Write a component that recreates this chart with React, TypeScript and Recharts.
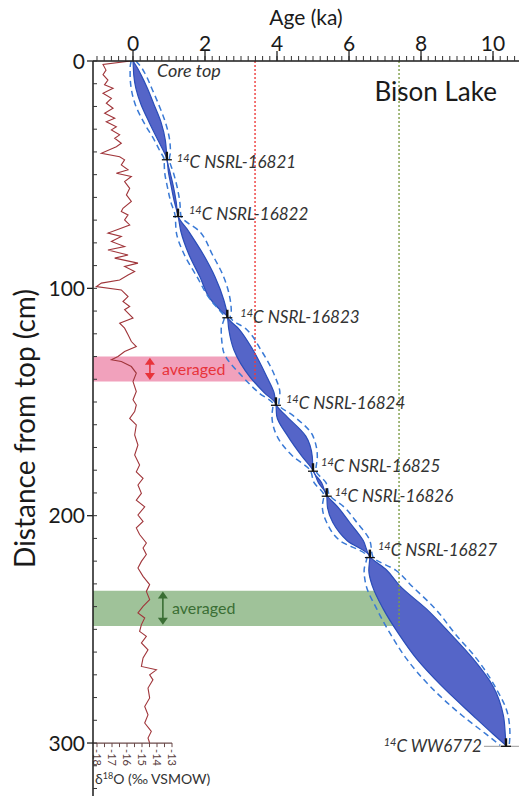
import React from "react";
import {
  ComposedChart,
  XAxis,
  YAxis,
  Area,
  Line,
  Scatter,
  ReferenceArea,
  ReferenceLine,
} from "recharts";

const FONT = "Lato, 'Open Sans', sans-serif";

// δ18O record, depth (cm) and value (‰ VSMOW)
const isoDepth = [
  0, 1.5, 4, 6, 8.4, 10.5, 12, 14.2, 16.4, 18.6, 20.8, 23, 25.2, 26.7, 28.9, 30.3,
  32.5, 34, 36.2, 37.7, 40.6, 42.1, 43.5, 45.7, 47.9, 49.4, 50.8, 53, 56, 58.9, 61.8,
  64.8, 66.2, 67.7, 69.9, 72.1, 74.3, 75.7, 77.2, 79.4, 81.6, 83.1, 85.3, 86.7, 88.9,
  90.4, 92.6, 94.1, 96.3, 97.7, 99.2, 100.7, 103.6, 105.8, 108, 109.4, 113.1, 115.3,
  117.5, 120.4, 123.4, 125.6, 127.8, 130, 131.4, 132.2, 134.4, 137.3, 141, 145.4, 149,
  151.3, 154.2, 157.2, 160.1, 164.5, 168.9, 173.3, 177.7, 180.7, 183.6, 186.5, 190.2,
  193.2, 196.1, 199.7, 202.5, 205.4, 208.3, 212, 214.2, 217.1, 220.1, 223, 226.7,
  230.3, 233.3, 236.9, 239.9, 242.8, 245, 247.9, 250.9, 253.1, 256, 259, 262.6, 266.3,
  267.8, 270, 272.2, 275.8, 280.2, 283.9, 287.6, 291.2, 294.9, 297.8, 300,
];
const isoValue = [
  -15.75, -17.6, -17.4, -17.6, -17.27, -17.5, -16.93, -17.6, -17.04, -17.38, -16.93,
  -17.49, -16.82, -17.38, -16.71, -17.04, -16.49, -16.82, -16.38, -16.71, -17.71,
  -16.49, -16.16, -16.38, -15.93, -16.71, -15.71, -16.16, -15.82, -16.04, -15.71,
  -16.27, -16.38, -15.93, -16.16, -15.82, -16.71, -17.27, -16.38, -17.04, -16.16,
  -17.27, -15.93, -16.82, -15.27, -16.16, -15.49, -15.93, -16.49, -17.71, -18.04,
  -16.38, -15.93, -16.27, -15.82, -16.16, -15.6, -16.49, -16.16, -15.93, -15.71,
  -15.38, -16.16, -16.6, -17.04, -16.38, -15.71, -15.38, -15.6, -15.38, -15.6, -15.38,
  -15.49, -15.82, -15.38, -15.49, -15.27, -15.49, -15.16, -15.38, -14.93, -15.27,
  -15.04, -15.38, -14.82, -15.27, -14.93, -15.38, -15.16, -14.71, -14.93, -14.71,
  -15.04, -15.27, -14.93, -14.49, -14.71, -14.49, -14.93, -15.27, -14.82, -15.04,
  -15.16, -14.71, -15.04, -14.6, -14.93, -15.04, -14.04, -14.49, -14.27, -14.6, -14.49,
  -14.82, -14.6, -14.82, -14.38, -14.6, -14.49,
];

// dated horizons
const dateDepth = [0, 43, 68, 112.5, 151, 180, 191, 218, 301];
const dateAge = [0, 0.94, 1.25, 2.62, 3.97, 5.0, 5.38, 6.58, 10.36];
const dateLabel = [
  "Core top",
  "14C NSRL-16821",
  "14C NSRL-16822",
  "14C NSRL-16823",
  "14C NSRL-16824",
  "14C NSRL-16825",
  "14C NSRL-16826",
  "14C NSRL-16827",
  "14C WW6772",
];

// age model (ka): filled range and dashed envelope
const modelDepth = [
  0, 3, 6, 12, 19, 27, 35, 40, 43, 49, 55, 62, 68, 75, 85, 95, 105, 110, 112.5, 118, 127,
  139, 146, 151, 156, 165, 174, 180, 185.5, 191, 196, 203, 211, 218, 224, 231, 241, 252,
  263, 275, 288, 296, 301,
];
const bandLo = [
  0, 0.01, 0.02, 0.08, 0.22, 0.45, 0.7, 0.86, 0.94, 0.985, 1.06, 1.15, 1.25, 1.33, 1.55,
  1.86, 2.16, 2.45, 2.62, 2.66, 2.8, 3.25, 3.65, 3.97, 3.99, 4.3, 4.7, 5.0, 5.15, 5.38,
  5.4, 5.55, 5.95, 6.58, 6.55, 6.65, 6.95, 7.38, 7.88, 8.58, 9.45, 10.0, 10.36,
];
const bandHi = [
  0, 0.12, 0.22, 0.4, 0.58, 0.78, 0.9, 0.93, 0.94, 1.03, 1.12, 1.2, 1.25, 1.55, 1.95,
  2.28, 2.52, 2.6, 2.62, 2.95, 3.33, 3.72, 3.92, 3.97, 4.25, 4.8, 4.98, 5.0, 5.24, 5.38,
  5.68, 6.02, 6.4, 6.58, 7.05, 7.42, 8.15, 8.82, 9.45, 10.0, 10.29, 10.34, 10.36,
];
const envLo = [
  -0.05, -0.08, -0.08, -0.05, 0.06, 0.3, 0.6, 0.76, 0.86, 0.88, 0.95, 1.05, 1.17, 1.2,
  1.42, 1.78, 2.15, 2.42, 2.54, 2.45, 2.5, 3.05, 3.5, 3.89, 3.86, 4.0, 4.45, 4.92, 5.03,
  5.3, 5.26, 5.38, 5.75, 6.5, 6.42, 6.48, 6.77, 7.15, 7.6, 8.25, 9.15, 9.8, 10.2,
];
const envHi = [
  0.08, 0.24, 0.35, 0.52, 0.71, 0.9, 1.02, 1.04, 1.01, 1.12, 1.22, 1.3, 1.33, 1.85, 2.2,
  2.52, 2.7, 2.73, 2.7, 3.15, 3.55, 3.95, 4.08, 4.05, 4.45, 5.0, 5.12, 5.08, 5.36, 5.46,
  5.85, 6.22, 6.58, 6.66, 7.3, 7.75, 8.4, 8.95, 9.55, 10.05, 10.42, 10.47, 10.45,
];

// axes
const ageLabels = [0, 2, 4, 6, 8, 10];
const depthLabels = [0, 100, 200, 300];
const isoLabels = [-18, -17, -16, -15, -14, -13];
const isoMinor = [-17.5, -16.5, -15.5, -14.5, -13.5];

const ageTicks: number[] = [];
for (let i = -5; i <= 53; i++) ageTicks.push(Math.round(i * 2) / 10);
const depthTicks: number[] = [];
for (let d = 0; d <= 320; d += 10) depthTicks.push(d);

const modelRows = modelDepth.map((d, i) => ({
  depth: d,
  band: [bandLo[i], bandHi[i]],
  envLo: envLo[i],
  envHi: envHi[i],
}));
const isoRows = isoDepth.map((d, i) => ({ depth: d, iso: isoValue[i] }));
const dateRows = dateDepth.map((d, i) => ({ depth: d, age: dateAge[i], label: dateLabel[i] }));

const labelShift: Record<string, [number, number]> = {
  "Core top": [24, 10],
  "14C NSRL-16821": [10, 3],
  "14C NSRL-16822": [11, -2],
  "14C NSRL-16823": [13, 0],
  "14C NSRL-16824": [10, -1],
  "14C NSRL-16825": [8, -4],
  "14C NSRL-16826": [8, 1],
  "14C NSRL-16827": [8, -7],
  "14C WW6772": [-24, 1],
};

const AgeTick = (p: any) => {
  const { x, y, payload } = p;
  const v = payload.value;
  const major = ageLabels.some((a) => Math.abs(a - v) < 1e-6);
  return (
    <g>
      <line x1={x} x2={x} y1={y + 2} y2={y + 7} stroke="#333" strokeWidth={1} />
      {major && (
        <>
          <line x1={x} x2={x} y1={y - 3} y2={y + 7} stroke="#222" strokeWidth={1.3} />
          <text x={x} y={y - 3} textAnchor="middle" fontSize={21} fill="#1a1a1a" fontFamily={FONT}>
            {v}
          </text>
        </>
      )}
    </g>
  );
};

const DepthTick = (p: any) => {
  const { x, y, payload } = p;
  const v = payload.value;
  const major = depthLabels.includes(v);
  return (
    <g>
      <line x1={x + 8} x2={x + 12} y1={y} y2={y} stroke="#333" strokeWidth={1} />
      {major && (
        <>
          <line x1={x + 2} x2={x + 8} y1={y} y2={y} stroke="#222" strokeWidth={1.3} />
          <text x={x} y={y} dy="0.36em" textAnchor="end" fontSize={21} fill="#1a1a1a" fontFamily={FONT}>
            {v}
          </text>
        </>
      )}
    </g>
  );
};

const AgeTitle = (p: any) => {
  const { viewBox } = p;
  return (
    <text
      x={viewBox.x + viewBox.width / 2}
      y={viewBox.y + 25}
      textAnchor="middle"
      fontSize={21}
      fill="#1a1a1a"
      fontFamily={FONT}
    >
      Age (ka)
    </text>
  );
};

const IsoTickText = (p: any) => {
  const { viewBox, text } = p;
  const x = viewBox.x;
  const y = viewBox.y + viewBox.height + 2;
  return (
    <text
      transform={`translate(${x},${y}) rotate(90)`}
      dy="0.35em"
      fontSize={11}
      fill="#5a4040"
      fontFamily={FONT}
    >
      {text}
    </text>
  );
};

const IsoTitle = (p: any) => {
  const { viewBox } = p;
  return (
    <text x={viewBox.x + 2} y={viewBox.y + 41} fontSize={14} fill="#333" fontFamily={FONT}>
      δ<tspan fontSize={9} dy={-5}>18</tspan>
      <tspan dy={5}>O (‰ VSMOW)</tspan>
    </text>
  );
};

const DoubleArrow = (p: any) => {
  const { x1, y1, x2, y2, color } = p;
  const top = Math.min(y1, y2);
  const bot = Math.max(y1, y2);
  return (
    <g>
      <line x1={x1} x2={x2} y1={top + 5} y2={bot - 5} stroke={color} strokeWidth={1.6} />
      <path d={`M${x1 - 5},${top + 7} L${x1},${top} L${x1 + 5},${top + 7} Z`} fill={color} />
      <path d={`M${x1 - 5},${bot - 7} L${x1},${bot} L${x1 + 5},${bot - 7} Z`} fill={color} />
    </g>
  );
};

const DateMark = (p: any) => {
  const { cx, cy, payload } = p;
  const label: string = payload.label;
  const is14C = label.startsWith("14C ");
  const rest = is14C ? label.slice(2) : label;
  const [dx, dy] = labelShift[label] || [10, 0];
  const anchorEnd = dx < 0 && is14C;
  const fs = is14C ? 17 : 18;
  const baseline = cy + dy + fs * 0.35;
  return (
    <g>
      {is14C && (
        <>
          {label === "14C WW6772" && (
            <line x1={cx - 22} x2={cx + 13} y1={cy + 1} y2={cy + 1} stroke="#999" strokeWidth={1} />
          )}
          <line x1={cx} x2={cx} y1={cy - 7} y2={cy + 1} stroke="#111" strokeWidth={2.4} />
          <line x1={cx - 5} x2={cx + 5} y1={cy + 1} y2={cy + 1} stroke="#111" strokeWidth={1.3} />
        </>
      )}
      <text
        x={cx + dx}
        y={baseline}
        textAnchor={anchorEnd ? "end" : "start"}
        fontSize={fs}
        fontStyle="italic"
        fill="#333"
        fontFamily={FONT}
      >
        {is14C && (
          <tspan fontSize={11} dy={-6}>
            14
          </tspan>
        )}
        {is14C ? <tspan dy={6}>{rest}</tspan> : rest}
      </text>
    </g>
  );
};

export default function App() {
  return (
    <div style={{ position: "fixed", left: 0, top: 0, width: 519, height: 796, background: "#fff" }}>
      <ComposedChart
        width={519}
        height={796}
        layout="vertical"
        data={modelRows}
        margin={{ top: 0, right: 0, bottom: 0, left: 0 }}
        style={{ fontFamily: FONT }}
      >
        <XAxis
          xAxisId="age"
          type="number"
          orientation="top"
          domain={[-1.111, 10.722]}
          allowDataOverflow
          ticks={ageTicks}
          interval={0}
          height={61}
          tickSize={5}
          tickLine={false}
          tick={<AgeTick />}
          axisLine={{ stroke: "#1a1a1a", strokeWidth: 1.5 }}
          label={<AgeTitle />}
        />
        <XAxis xAxisId="iso" type="number" hide domain={[-18.267, 10.133]} allowDataOverflow />
        <YAxis
          yAxisId="depth"
          type="number"
          dataKey="depth"
          domain={[0, 323.3]}
          allowDataOverflow
          ticks={depthTicks}
          interval={0}
          width={93}
          tickSize={6}
          tickLine={false}
          tick={<DepthTick />}
          axisLine={{ stroke: "#1a1a1a", strokeWidth: 1.5 }}
          label={{
            value: "Distance from top (cm)",
            angle: -90,
            position: "insideLeft",
            offset: 25,
            fontSize: 28,
            fill: "#1a1a1a",
            style: { textAnchor: "middle" },
          }}
        />

        <ReferenceArea
          xAxisId="age"
          yAxisId="depth"
          x1={-1.111}
          x2={3.44}
          y1={130}
          y2={141}
          fill="#e8638f"
          fillOpacity={0.6}
          stroke="none"
        />
        <ReferenceArea
          xAxisId="age"
          yAxisId="depth"
          x1={-1.111}
          x2={7.4}
          y1={233}
          y2={248.5}
          fill="#5f9a55"
          fillOpacity={0.6}
          stroke="none"
        />
        <ReferenceArea
          xAxisId="age"
          yAxisId="depth"
          x1={-1.111}
          x2={10.722}
          y1={0}
          y2={323.3}
          fill="none"
          fillOpacity={0}
          stroke="none"
          label={{ value: "Bison Lake", position: "insideTopRight", offset: 22, fontSize: 26, fill: "#1a1a1a" }}
        />

        <ReferenceLine
          xAxisId="age"
          yAxisId="depth"
          segment={[{ x: 3.39, y: 0 }, { x: 3.39, y: 140.5 }]}
          stroke="#ee3b3b"
          strokeWidth={1.4}
          strokeDasharray="2 2"
        />
        <ReferenceLine
          xAxisId="age"
          yAxisId="depth"
          segment={[{ x: 7.39, y: 0 }, { x: 7.39, y: 248.5 }]}
          stroke="#7d9d46"
          strokeWidth={1.4}
          strokeDasharray="2 2"
        />

        <Line
          data={isoRows}
          xAxisId="iso"
          yAxisId="depth"
          dataKey="iso"
          type="linear"
          stroke="#a0353a"
          strokeWidth={1.1}
          dot={false}
          activeDot={false}
          isAnimationActive={false}
        />

        <Area
          xAxisId="age"
          yAxisId="depth"
          dataKey="band"
          type="monotone"
          fill="#5565c8"
          fillOpacity={1}
          stroke="#2a4db8"
          strokeWidth={1.2}
          dot={false}
          activeDot={false}
          isAnimationActive={false}
        />
        <Line
          xAxisId="age"
          yAxisId="depth"
          dataKey="envLo"
          type="monotone"
          stroke="#3a7ad6"
          strokeWidth={1.5}
          strokeDasharray="6 4"
          dot={false}
          activeDot={false}
          isAnimationActive={false}
        />
        <Line
          xAxisId="age"
          yAxisId="depth"
          dataKey="envHi"
          type="monotone"
          stroke="#3a7ad6"
          strokeWidth={1.5}
          strokeDasharray="6 4"
          dot={false}
          activeDot={false}
          isAnimationActive={false}
        />

        <Scatter
          data={dateRows}
          xAxisId="age"
          yAxisId="depth"
          dataKey="age"
          shape={(p: any) => <DateMark {...p} />}
          isAnimationActive={false}
        />

        <ReferenceLine
          xAxisId="age"
          yAxisId="depth"
          segment={[{ x: 0.47, y: 130.5 }, { x: 0.47, y: 140.3 }]}
          stroke="#e8333a"
          shape={(p: any) => <DoubleArrow {...p} color="#e8333a" />}
          label={{ value: "averaged", position: "right", offset: 12, fontSize: 16, fill: "#e8333a" }}
        />
        <ReferenceLine
          xAxisId="age"
          yAxisId="depth"
          segment={[{ x: 0.83, y: 233.4 }, { x: 0.83, y: 248 }]}
          stroke="#3a6e34"
          shape={(p: any) => <DoubleArrow {...p} color="#3a6e34" />}
          label={{ value: "averaged", position: "right", offset: 9, fontSize: 16, fill: "#3a6e34" }}
        />

        <ReferenceLine
          xAxisId="iso"
          yAxisId="depth"
          segment={[{ x: -18.267, y: 300 }, { x: -13, y: 300 }]}
          stroke="#6a4a4a"
          strokeWidth={1.2}
          label={<IsoTitle />}
        />
        {isoLabels.map((v) => (
          <ReferenceLine
            key={`il${v}`}
            xAxisId="iso"
            yAxisId="depth"
            segment={[{ x: v, y: 300 }, { x: v, y: 301.8 }]}
            stroke="#6a4a4a"
            strokeWidth={1}
            label={<IsoTickText text={String(v)} />}
          />
        ))}
        {isoMinor.map((v) => (
          <ReferenceLine
            key={`im${v}`}
            xAxisId="iso"
            yAxisId="depth"
            segment={[{ x: v, y: 300 }, { x: v, y: 301.8 }]}
            stroke="#6a4a4a"
            strokeWidth={1}
          />
        ))}
      </ComposedChart>
    </div>
  );
}
